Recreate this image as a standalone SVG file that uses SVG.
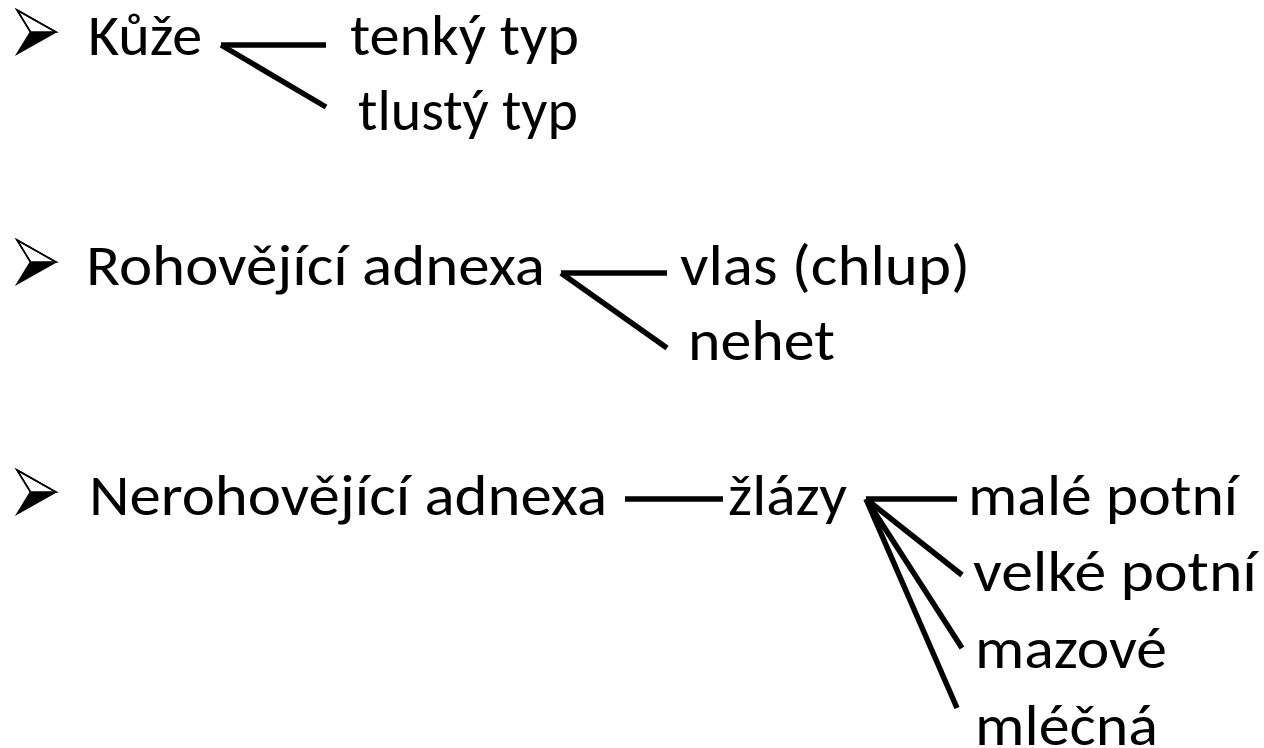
<svg xmlns="http://www.w3.org/2000/svg" width="1264" height="748" viewBox="0 0 1264 748">
<defs>
<style>
text{font-family:Carlito,Lato,"Liberation Sans",sans-serif;font-size:57px;fill:#000}
.c line{stroke:#000;stroke-width:5.5;stroke-linecap:butt}
.bu{fill:#fff;stroke:#000;stroke-width:1.5;stroke-linejoin:miter}
.bl{fill:#000}
</style>
<g id="bullet">
<path class="bu" d="M17,-45 L56,-23 L30.5,-23 Z"/>
<path class="bl" d="M17,-1 L56,-23 L30.5,-23 Z"/>
<path d="M17,-45 L56,-23 L17,-1 L30.5,-23 Z" fill="none" stroke="#000" stroke-width="1.5"/>
</g>
</defs>
<rect width="1264" height="748" fill="#fff"/>
<g id="n-kuze">
<use href="#bullet" x="0" y="55"/>
<text x="88" y="55" textLength="114" lengthAdjust="spacingAndGlyphs">Kůže</text>
</g>
<g id="n-tenky"><text x="350" y="55" textLength="229" lengthAdjust="spacingAndGlyphs">tenký typ</text></g>
<g id="n-tlusty"><text x="358" y="130" textLength="220" lengthAdjust="spacingAndGlyphs">tlustý typ</text></g>
<g id="n-rohovejici">
<use href="#bullet" x="0" y="285"/>
<text x="86" y="285" textLength="459" lengthAdjust="spacingAndGlyphs">Rohovějící adnexa</text>
</g>
<g id="n-vlas"><text x="680" y="285" textLength="290" lengthAdjust="spacingAndGlyphs">vlas (chlup)</text></g>
<g id="n-nehet"><text x="688" y="360" textLength="147" lengthAdjust="spacingAndGlyphs">nehet</text></g>
<g id="n-nerohovejici">
<use href="#bullet" x="0" y="515"/>
<text x="89" y="515" textLength="518" lengthAdjust="spacingAndGlyphs">Nerohovějící adnexa</text>
</g>
<g id="n-zlazy"><text x="728" y="515" textLength="119" lengthAdjust="spacingAndGlyphs">žlázy</text></g>
<g id="n-male"><text x="968" y="515" textLength="270" lengthAdjust="spacingAndGlyphs">malé potní</text></g>
<g id="n-velke"><text x="973" y="591" textLength="284" lengthAdjust="spacingAndGlyphs">velké potní</text></g>
<g id="n-mazove"><text x="975" y="668" textLength="192" lengthAdjust="spacingAndGlyphs">mazové</text></g>
<g id="n-mlecna"><text x="975" y="745" textLength="183" lengthAdjust="spacingAndGlyphs">mléčná</text></g>
<g id="connectors" class="c">
<line x1="221" y1="45" x2="326" y2="45"/>
<line x1="221" y1="45" x2="326" y2="107"/>
<line x1="561" y1="273" x2="667" y2="273"/>
<line x1="561" y1="273" x2="667" y2="348"/>
<line x1="625" y1="499" x2="723" y2="499"/>
<line x1="866" y1="499" x2="957" y2="499"/>
<line x1="866" y1="499" x2="962" y2="575"/>
<line x1="866" y1="499" x2="962" y2="648"/>
<line x1="866" y1="499" x2="957" y2="708"/>
</g>
</svg>
